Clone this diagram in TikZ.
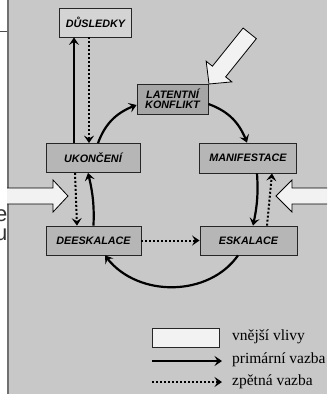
\documentclass[tikz,border=0pt]{standalone}
\usepackage{fontspec}
\setmainfont{Liberation Serif}
\setsansfont{Liberation Sans}
\usetikzlibrary{arrows.meta, bending}

\definecolor{panelgray}{HTML}{C8C8C8}
\definecolor{paneledge}{HTML}{707070}
\definecolor{stagegray}{HTML}{B6B6B6}
\definecolor{latentgray}{HTML}{A6A6A6}
\definecolor{dusgray}{HTML}{D4D4D4}
\definecolor{outsidefill}{HTML}{F2F2F2}

\begin{document}
\begin{tikzpicture}[
    x=1pt, y=-1pt,
    stage/.style={draw=black!85, line width=0.8pt, fill=stagegray,
        minimum width=94pt, minimum height=29pt, inner sep=0pt, align=center,
        font=\sffamily\bfseries\itshape\fontsize{10.8}{10}\selectfont},
    primary/.style={line width=2.2pt, -{Stealth[length=7.5pt,width=10pt,inset=3pt]}},
    feedback/.style={primary, line width=2pt, dash pattern=on 2pt off 2pt},
    influence/.style={draw=black, line width=0.8pt, fill=outsidefill, line join=miter},
    legend/.style={anchor=west, inner sep=0pt, font=\fontsize{15.5}{16}\selectfont}
]
\useasboundingbox (0,0) rectangle (327,394);

% =========================
% PANEL
% =========================
\fill[white] (0,0) rectangle (327,394);
\fill[panelgray] (8,0) rectangle (327,394);
\draw[paneledge, line width=2pt] (8,0) -- (8,394);
\draw[black!70, line width=0.8pt] (0,31) -- (7,31);

% cut-off letters left of the panel
\begin{scope}
    \clip (0,0) rectangle (7,394);
    \node[anchor=base east, inner sep=0pt, text=black!80,
        font=\sffamily\fontsize{22}{22}\selectfont] (frage) at (7.5,221) {e};
    \node[anchor=base east, inner sep=0pt, text=black!80,
        font=\sffamily\fontsize{22}{22}\selectfont] (fragu) at (7.5,240) {u};
\end{scope}

% =========================
% STAGES
% =========================
\node[stage, fill=dusgray, minimum width=72pt] (dusledky) at (95.5,22.5) {DŮSLEDKY};
\node[stage, fill=latentgray, minimum width=71pt, minimum height=30pt] (latent) at (172.5,99) {LATENTNÍ\\KONFLIKT};
\node[stage] (ukonceni) at (93,158) {UKONČENÍ};
\node[stage, minimum width=97pt, minimum height=30pt] (manif) at (248,158) {MANIFESTACE};
\node[stage, minimum width=95pt] (deesk) at (93.5,240.5) {DEESKALACE};
\node[stage, minimum width=97pt] (eskal) at (248.5,240.5) {ESKALACE};

% =========================
% CONNECTIONS
% =========================
% consequences
\draw[primary] ([xshift=-19pt]ukonceni.north) -- ([xshift=-21.5pt]dusledky.south);
\draw[feedback] ([xshift=-6.5pt]dusledky.south) -- ([xshift=-4pt]ukonceni.north);

% main cycle
\draw[primary] ([xshift=5pt]ukonceni.north) to[bend left=25] ([yshift=-6pt]latent.west);
\draw[primary] ([yshift=-5pt]latent.east) to[bend left=25] ([xshift=-1pt]manif.north);
\draw[primary] ([xshift=9pt]manif.south) to[bend left=8] ([xshift=4.5pt]eskal.north);
\draw[feedback] ([xshift=18.5pt]eskal.north) -- ([xshift=24pt]manif.south);
\draw[feedback] (deesk.east) -- (eskal.west);
\draw[primary] ([xshift=-10.5pt]eskal.south) to[bend left=55] ([xshift=11.5pt]deesk.south);
\draw[primary] (deesk.north) to[bend right=8] ([xshift=-5pt]ukonceni.south);
\draw[feedback] ([xshift=-18pt]ukonceni.south) -- ([xshift=-16.5pt]deesk.north);

% =========================
% OUTSIDE INFLUENCES
% =========================
\begin{scope}[shift={(209,84)}, rotate=231.2]
    \draw[influence] (0,0) -- (-16,16.5) -- (-16,8.5) -- (-65,8.5)
        -- (-65,-8.5) -- (-16,-8.5) -- (-16,-16.5) -- cycle;
\end{scope}

\fill[outsidefill] (7,188) rectangle (54,204);
\draw[influence] (7,188) -- (53,188) -- (53,180) -- (68,196)
    -- (53,212) -- (53,204) -- (7,204);

\begin{scope}
    \clip (8,0) rectangle (327,394);
    \draw[influence] (332,188) -- (292,188) -- (292,180) -- (276,196)
        -- (292,212) -- (292,204) -- (332,204);
\end{scope}

% =========================
% LEGEND
% =========================
\node[draw=black!85, line width=0.8pt, fill=outsidefill, minimum width=67pt,
    minimum height=19pt, inner sep=0pt] (legbox) at (185.5,337.5) {};
\node[legend] (legvliv) at (232,337) {vnější vlivy};

\coordinate (legprimA) at (152,361);
\coordinate (legprimB) at (222,361);
\draw[primary] (legprimA) -- (legprimB);
\node[legend] (legprim) at (232,359.5) {primární vazba};

\coordinate (legzpetA) at (152,382);
\coordinate (legzpetB) at (222,382);
\draw[feedback] (legzpetA) -- (legzpetB);
\node[legend] (legzpet) at (232,381.5) {zpětná vazba};
\end{tikzpicture}
\end{document}
